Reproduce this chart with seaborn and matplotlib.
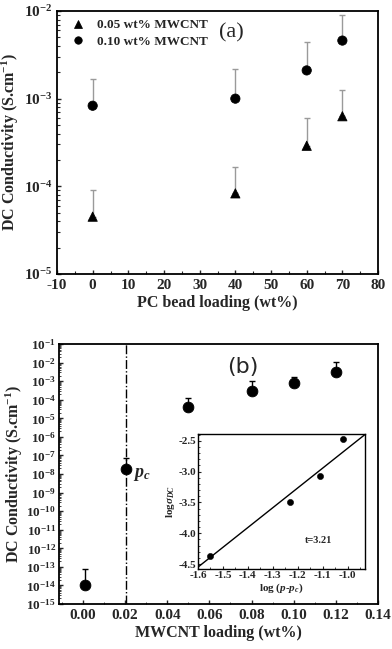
import matplotlib
matplotlib.use("Agg")
import matplotlib.pyplot as plt
import matplotlib.ticker as mticker
import seaborn as sns
import numpy as np
import pandas as pd

# panel (a): PC bead loading
bead_loading = [0, 40, 60, 70]
sigma_005 = [4.5e-5, 8.3e-5, 2.9e-4, 6.3e-4]
sigma_005_top = [9.0e-5, 1.66e-4, 6.0e-4, 1.26e-3]
sigma_010 = [8.3e-4, 1.0e-3, 2.1e-3, 4.6e-3]
sigma_010_top = [1.66e-3, 2.2e-3, 4.4e-3, 9.0e-3]

# panel (b): MWCNT loading
mwcnt_loading = [0.001, 0.0205, 0.05, 0.08, 0.10, 0.12]
sigma_b = [1.1e-14, 1.9e-8, 4.0e-5, 3.0e-4, 8.0e-4, 3.0e-3]
sigma_b_top = [8.0e-14, 7.0e-8, 1.3e-4, 1.0e-3, 1.7e-3, 1.1e-2]
p_c = 0.0205

# inset: log-log fit
log_p = [-1.55, -1.23, -1.11, -1.02]
log_sigma = [-4.37, -3.50, -3.07, -2.47]
fit_slope = 3.21
fit_intercept = 0.586

sns.set_theme(style="ticks")
plt.rcParams["font.family"] = ["Liberation Serif", "DejaVu Serif"]
plt.rcParams["font.weight"] = "bold"
plt.rcParams["mathtext.fontset"] = "custom"
plt.rcParams["mathtext.rm"] = "Liberation Serif:bold"
plt.rcParams["mathtext.it"] = "Liberation Serif:italic:bold"
plt.rcParams["mathtext.bf"] = "Liberation Serif:bold"
plt.rcParams["axes.unicode_minus"] = False
plt.rcParams["xtick.direction"] = "in"
plt.rcParams["ytick.direction"] = "in"

fig = plt.figure(figsize=(3.92, 6.49), dpi=100)
ax1 = fig.add_axes([0.1454, 0.578, 0.819, 0.405])
ax2 = fig.add_axes([0.150, 0.0693, 0.814, 0.4006])
ax3 = fig.add_axes([0.505, 0.1233, 0.426, 0.208])

err_kw = dict(fmt="none", ecolor="#9a9a9a", elinewidth=1.0, capsize=2.5, capthick=1.0)

# ---- panel (a)
df_a = pd.DataFrame({
    "x": bead_loading * 2,
    "y": sigma_005 + sigma_010,
    "series": ["0.05 wt% MWCNT"] * 4 + ["0.10 wt% MWCNT"] * 4,
})
for y, top in [(sigma_005, sigma_005_top), (sigma_010, sigma_010_top)]:
    lower = np.zeros(len(y))
    upper = np.array(top) - np.array(y)
    ax1.errorbar(bead_loading, y, yerr=[lower, upper], **err_kw, zorder=1)
sns.scatterplot(data=df_a, x="x", y="y", style="series", markers=["^", "o"],
                color="black", s=45, edgecolor="black", ax=ax1, zorder=3)
ax1.set_yscale("log")
ax1.set_xlim(-10, 80)
ax1.set_ylim(1e-5, 1e-2)
ax1.set_xticks(range(-10, 81, 10))
ax1.xaxis.set_minor_locator(mticker.MultipleLocator(5))
ax1.set_yticks([1e-5, 1e-4, 1e-3, 1e-2])
ax1.set_yticklabels([r"$10^{-5}$", r"$10^{-4}$", r"$10^{-3}$", r"$10^{-2}$"])
ax1.tick_params(labelsize=11, length=3, width=1)
ax1.tick_params(which="minor", length=2, width=0.8)
ax1.set_xlabel("PC bead loading (wt%)", fontsize=11.5, fontweight="bold", labelpad=2)
ax1.set_ylabel(r"DC Conductivity (S.cm$^{-1}$)", fontsize=11.5, fontweight="bold",
               labelpad=2)
ax1.text(39, 5.6e-3, "(a)", fontsize=16, fontweight="normal", ha="center", va="center")
leg = ax1.legend(loc="upper left", frameon=False, fontsize=9.5, handletextpad=0.4,
                 borderaxespad=0.2, labelspacing=0.35, markerscale=0.8)
for t in leg.get_texts():
    t.set_fontweight("bold")

# ---- panel (b)
df_b = pd.DataFrame({"x": mwcnt_loading, "y": sigma_b})
lower = np.zeros(len(sigma_b))
upper = np.array(sigma_b_top) - np.array(sigma_b)
ax2.errorbar(mwcnt_loading, sigma_b, yerr=[lower, upper], fmt="none", ecolor="black",
             elinewidth=1.0, capsize=2.5, capthick=1.0, zorder=1)
sns.scatterplot(data=df_b, x="x", y="y", marker="o", color="black", s=60,
                edgecolor="black", ax=ax2, zorder=3)
ax2.axvline(p_c, color="black", linestyle="-.", linewidth=1.0, zorder=0)
ax2.set_yscale("log")
ax2.set_xlim(-0.0115, 0.14)
ax2.set_ylim(1e-15, 1e-1)
ax2.set_xticks(np.arange(0, 0.141, 0.02))
ax2.set_xticklabels([f"{v:.2f}" for v in np.arange(0, 0.141, 0.02)])
ax2.xaxis.set_minor_locator(mticker.MultipleLocator(0.01))
exps = list(range(-15, 0))
ax2.set_yticks([10.0 ** e for e in exps])
ax2.set_yticklabels([rf"$10^{{{e}}}$" for e in exps])
ax2.yaxis.set_minor_locator(mticker.LogLocator(base=10, subs=np.arange(2, 10), numticks=40))
ax2.yaxis.set_minor_formatter(mticker.NullFormatter())
ax2.tick_params(axis="y", labelsize=9.5, length=3, width=1, pad=2)
ax2.tick_params(axis="x", labelsize=11, length=3, width=1)
ax2.tick_params(which="minor", length=1.5, width=0.6)
ax2.set_xlabel("MWCNT loading (wt%)", fontsize=11.5, fontweight="bold", labelpad=2)
ax2.set_ylabel(r"DC Conductivity (S.cm$^{-1}$)", fontsize=11.5, fontweight="bold",
               labelpad=1)
ax2.text(0.0235, 1e-8, r"$p_c$", fontsize=13, ha="left", va="center")
ax2.text(0.0757, 5.8e-3, "(b)", fontsize=16, fontweight="normal", family="DejaVu Sans",
         ha="center", va="center")

# ---- inset
df_c = pd.DataFrame({"x": log_p, "y": log_sigma})
xs = np.array([-1.62, -0.92])
ax3.plot(xs, fit_slope * xs + fit_intercept, color="black", linewidth=1.0)
sns.scatterplot(data=df_c, x="x", y="y", marker="o", color="black", s=20,
                edgecolor="black", ax=ax3, zorder=3)
ax3.set_xlim(-1.6, -0.93)
ax3.set_ylim(-4.58, -2.39)
ax3.set_xticks([-1.6, -1.5, -1.4, -1.3, -1.2, -1.1, -1.0])
ax3.set_xticklabels(["-1.6", "-1.5", "-1.4", "-1.3", "-1.2", "-1.1", "-1.0"])
ax3.set_yticks([-4.5, -4.0, -3.5, -3.0, -2.5])
ax3.set_yticklabels(["-4.5", "-4.0", "-3.5", "-3.0", "-2.5"])
ax3.xaxis.set_minor_locator(mticker.MultipleLocator(0.05))
ax3.yaxis.set_minor_locator(mticker.MultipleLocator(0.1))
ax3.tick_params(labelsize=8, length=2.5, width=0.8, pad=1.5)
ax3.tick_params(which="minor", length=1.5, width=0.6)
ax3.set_xlabel(r"log ($p$-$p_c$)", fontsize=8, fontweight="bold", labelpad=1)
ax3.set_ylabel(r"log$\sigma_{DC}$", fontsize=8, fontweight="bold", labelpad=1)
ax3.text(-1.17, -4.12, "t=3.21", fontsize=7.5, fontweight="bold", ha="left", va="center")

for ax in (ax1, ax2):
    for s in ax.spines.values():
        s.set_linewidth(1.3)
        s.set_color("black")
for s in ax3.spines.values():
    s.set_linewidth(1.0)
    s.set_color("black")

fig.savefig("out.png", dpi=100)
plt.close(fig)
